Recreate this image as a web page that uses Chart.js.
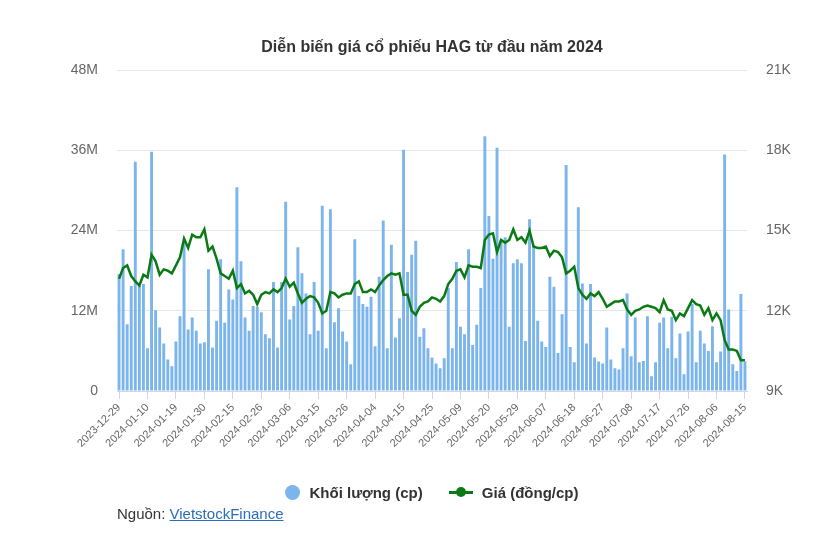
<!DOCTYPE html>
<html>
<head>
<meta charset="utf-8">
<script src="https://cdn.jsdelivr.net/npm/chart.js@4.4.1/dist/chart.umd.min.js"></script>
<style>
  body { margin: 0; background: #fff; font-family: 'Liberation Sans', Arial, sans-serif; }
  #wrap { position: relative; width: 818px; height: 548px; }
  #legend { position: absolute; left: 117px; width: 630px; top: 482px; text-align: center;
            font-size: 15px; font-weight: bold; color: #333; }
  #legend span { display: inline-block; vertical-align: middle; }
  .dot { width: 15px; height: 15px; border-radius: 50%; background: #7cb5ec; margin-right: 9px; }
  .lsym { position: relative; width: 24px; height: 3px; background: #0b7a14; margin: 0 9px 0 22px; }
  .lsym:after { content: ''; position: absolute; left: 7px; top: -4px; width: 10px; height: 10px;
                border-radius: 50%; background: #0b7a14; }
  #source { position: absolute; left: 117px; top: 505px; font-size: 15px; color: #333; }
  #source a { color: #2a6ebb; text-decoration: underline; }
</style>
</head>
<body>
<div id="wrap">
  <canvas id="chart" width="818" height="548"></canvas>
  <div id="legend">
    <span class="dot"></span><span>Khối lượng (cp)</span>
    <span class="lsym"></span><span>Giá (đồng/cp)</span>
  </div>
  <div id="source">Nguồn: <a href="#">VietstockFinance</a></div>
</div>
<script>
// trading days, 2023-12-29 .. 2024-08-15
const dates = [
  '2023-12-29',
  '2024-01-02','2024-01-03','2024-01-04','2024-01-05','2024-01-08','2024-01-09','2024-01-10','2024-01-11','2024-01-12',
  '2024-01-15','2024-01-16','2024-01-17','2024-01-18','2024-01-19','2024-01-22','2024-01-23','2024-01-24','2024-01-25','2024-01-26',
  '2024-01-29','2024-01-30','2024-01-31','2024-02-01','2024-02-02','2024-02-05','2024-02-06','2024-02-07',
  '2024-02-15','2024-02-16','2024-02-19','2024-02-20','2024-02-21','2024-02-22','2024-02-23','2024-02-26','2024-02-27','2024-02-28','2024-02-29',
  '2024-03-01','2024-03-04','2024-03-05','2024-03-06','2024-03-07','2024-03-08','2024-03-11','2024-03-12','2024-03-13','2024-03-14','2024-03-15',
  '2024-03-18','2024-03-19','2024-03-20','2024-03-21','2024-03-22','2024-03-25','2024-03-26','2024-03-27','2024-03-28','2024-03-29',
  '2024-04-01','2024-04-02','2024-04-03','2024-04-04','2024-04-05','2024-04-08','2024-04-09','2024-04-10','2024-04-11','2024-04-12',
  '2024-04-15','2024-04-16','2024-04-17','2024-04-19','2024-04-22','2024-04-23','2024-04-24','2024-04-25','2024-04-26',
  '2024-05-02','2024-05-03','2024-05-06','2024-05-07','2024-05-08','2024-05-09','2024-05-10','2024-05-13','2024-05-14','2024-05-15',
  '2024-05-16','2024-05-17','2024-05-20','2024-05-21','2024-05-22','2024-05-23','2024-05-24','2024-05-27','2024-05-28','2024-05-29',
  '2024-05-30','2024-05-31','2024-06-03','2024-06-04','2024-06-05','2024-06-06','2024-06-07','2024-06-10','2024-06-11','2024-06-12',
  '2024-06-13','2024-06-14','2024-06-17','2024-06-18','2024-06-19','2024-06-20','2024-06-21','2024-06-24','2024-06-25','2024-06-26',
  '2024-06-27','2024-06-28','2024-07-01','2024-07-02','2024-07-03','2024-07-04','2024-07-05','2024-07-08','2024-07-09','2024-07-10',
  '2024-07-11','2024-07-12','2024-07-15','2024-07-16','2024-07-17','2024-07-18','2024-07-19','2024-07-22','2024-07-23','2024-07-24',
  '2024-07-25','2024-07-26','2024-07-29','2024-07-30','2024-07-31','2024-08-01','2024-08-02','2024-08-05','2024-08-06','2024-08-07',
  '2024-08-08','2024-08-09','2024-08-12','2024-08-13','2024-08-14','2024-08-15'
];

// volume, millions of shares
const volumeM = [
  17.5, 21.2, 10.0, 15.7, 34.3, 15.7, 16.0, 6.4, 35.8, 12.1,
  9.5, 7.1, 4.7, 3.7, 7.4, 11.2, 22.1, 9.2, 11.0, 9.0,
  7.1, 7.3, 18.2, 6.5, 10.5, 19.7, 10.2, 15.2, 13.7, 30.5,
  19.4, 11.0, 9.0, 12.7, 12.6, 11.8, 8.5, 7.9, 16.3, 6.5,
  16.3, 28.3, 10.7, 12.7, 21.5, 17.6, 14.6, 8.5, 16.3, 9.0,
  27.7, 6.4, 27.2, 10.3, 12.4, 8.9, 7.4, 4.0, 22.7, 14.2,
  13.0, 12.6, 14.1, 6.7, 17.1, 25.5, 6.4, 21.9, 8.0, 10.9,
  36.1, 17.8, 20.4, 22.5, 8.1, 9.4, 6.4, 5.0, 4.1, 3.4,
  4.9, 15.4, 6.4, 19.3, 9.6, 8.5, 21.2, 6.9, 9.9, 15.4,
  38.1, 26.2, 19.8, 36.4, 22.6, 23.0, 9.6, 19.1, 19.7, 19.1,
  7.5, 25.7, 21.8, 10.5, 7.4, 6.6, 17.1, 15.6, 5.7, 11.5,
  33.8, 6.6, 4.3, 27.5, 16.1, 7.1, 16.0, 5.0, 4.4, 4.1,
  9.5, 4.7, 3.4, 3.2, 6.4, 14.6, 5.2, 11.0, 4.3, 4.5,
  11.2, 2.2, 4.3, 10.2, 11.0, 6.4, 11.1, 4.9, 8.6, 2.5,
  8.9, 13.0, 4.3, 9.0, 7.1, 6.0, 9.7, 4.3, 5.9, 35.4,
  12.2, 4.0, 3.0, 14.5, 4.4
];

// closing price, VND per share
const price = [
  13200, 13600, 13700, 13300, 13100, 12950, 13350, 13250, 14100, 13850,
  13350, 13550, 13500, 13400, 13700, 14000, 14700, 14350, 14850, 14750,
  14750, 15050, 14250, 14400, 13950, 13400, 13300, 13200, 13500, 12850,
  13000, 12650, 12750, 12600, 12250, 12600, 12700, 12650, 12800, 12700,
  12850, 13200, 12900, 13050, 12650, 12300, 12450, 12550, 12500, 12300,
  11900, 12000, 12700, 12650, 12500, 12600, 12650, 12650, 13000, 13100,
  12700, 12700, 12800, 12700, 12950, 13150, 13300, 13400, 13350, 13400,
  12600, 12600, 12000, 11850, 12150, 12300, 12350, 12500, 12450, 12350,
  12550, 13000, 13200, 13500, 13550, 13250, 13700, 13650, 13650, 13600,
  14650, 14850, 14900, 14200, 14650, 14550, 14650, 15050, 14650, 14750,
  14550, 15000, 14400, 14350, 14350, 14400, 14050, 14250, 14200, 14000,
  13400, 13500, 13650, 12850, 12600, 12450, 12650, 12550, 12700, 12450,
  12150, 12250, 12350, 12350, 12400, 12050, 11850, 12000, 12050, 12150,
  12200, 12150, 12100, 11950, 12400, 12050, 12000, 11650, 11900, 11800,
  12100, 12400, 12250, 12200, 11850, 12100, 11650, 11900, 11650, 10900,
  10550, 10550, 10500, 10150, 10150
];

const labelStep = 7;
const font = "'Liberation Sans', Arial, sans-serif";

new Chart(document.getElementById('chart'), {
    data: {
        labels: dates,
        datasets: [
            {
                type: 'line',
                label: 'Giá (đồng/cp)',
                data: price,
                yAxisID: 'yPrice',
                borderColor: '#0b7a14',
                borderWidth: 2.5,
                pointRadius: 0,
                tension: 0,
                order: 0
            },
            {
                type: 'bar',
                label: 'Khối lượng (cp)',
                data: volumeM,
                yAxisID: 'yVol',
                backgroundColor: '#7cb5ec',
                barPercentage: 0.72,
                categoryPercentage: 1,
                order: 1
            }
        ]
    },
    options: {
        responsive: false,
        animation: false,
        layout: { padding: { left: 0, right: 0, top: 0, bottom: 57 } },
        plugins: {
            legend: { display: false },
            tooltip: { enabled: false },
            title: {
                display: true,
                fullSize: false,
                text: 'Diễn biến giá cổ phiếu HAG từ đầu năm 2024',
                color: '#333',
                font: { family: font, size: 16, weight: 'bold' },
                padding: { top: 38, bottom: 13 }
            }
        },
        scales: {
            x: {
                offset: true,
                grid: { drawOnChartArea: false, drawTicks: true, tickLength: 8, color: '#ccd6eb', offset: false },
                border: { color: '#ccd6eb' },
                ticks: {
                    autoSkip: false,
                    minRotation: 45,
                    maxRotation: 45,
                    padding: 2,
                    color: '#666',
                    font: { family: font, size: 11 },
                    callback: function(value, index) {
                        return index % labelStep === 0 ? dates[index] : null;
                    }
                },
                afterFit: function(scale) { scale.height = 100; }
            },
            yVol: {
                position: 'left',
                min: 0,
                max: 48,
                grid: { color: '#e6e6e6', drawTicks: false },
                border: { display: false },
                ticks: {
                    stepSize: 12,
                    padding: 19,
                    color: '#666',
                    font: { family: font, size: 14 },
                    callback: v => v === 0 ? '0' : v + 'M'
                },
                afterFit: function(scale) { scale.width = 117; }
            },
            yPrice: {
                position: 'right',
                min: 9000,
                max: 21000,
                grid: { drawOnChartArea: false, drawTicks: false },
                border: { display: false },
                ticks: {
                    stepSize: 3000,
                    padding: 19,
                    color: '#666',
                    font: { family: font, size: 14 },
                    callback: v => (v / 1000) + 'K'
                },
                afterFit: function(scale) { scale.width = 71; }
            }
        }
    }
});
</script>
</body>
</html>
